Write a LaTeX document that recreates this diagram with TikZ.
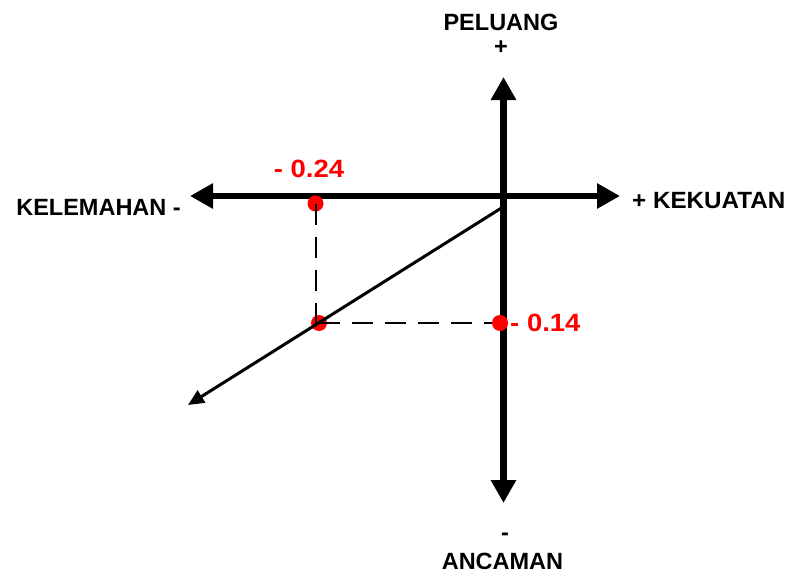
\documentclass[tikz,border=0pt]{standalone}
\usepackage{fontspec}
\setmainfont{Liberation Sans}
\usetikzlibrary{arrows.meta}
\begin{document}
\begin{tikzpicture}[x=1pt,y=-1pt,
  lbl/.style={inner sep=0pt,font=\fontsize{23.5}{26}\selectfont\bfseries},
  rlbl/.style={inner sep=0pt,text=red,font=\fontsize{25}{28}\selectfont\bfseries,xscale=1.1},
  axisline/.style={line width=6.5pt,-{Triangle[length=23pt,width=24pt]}},
  dotr/.style={circle,fill=red,inner sep=0pt,minimum size=16pt},
  guideline/.style={line width=2pt,dash pattern=on 21pt off 12pt}
]
\useasboundingbox (0,0) rectangle (787,573);
% axis end points
\coordinate (W) at (190,196);
\coordinate (E) at (620,196);
\coordinate (N) at (503.5,77);
\coordinate (S) at (503.5,503);
\coordinate (O) at (503.5,196);
\coordinate (D0) at (503,207);
\coordinate (D1) at (188,405);
% axes
\draw[axisline] (O) -- (W);
\draw[axisline] (O) -- (E);
\draw[axisline] (O) -- (N);
\draw[axisline] (O) -- (S);
% dots
\node[dotr] (p1) at (315.5,203.5) {};
\node[dotr] (p2) at (319,323) {};
\node[dotr] (p3) at (500,323) {};
% dashed guides
\draw[guideline] (p1.center) -- (p1.center |- p2.center);
\draw[guideline] (p2.center) -- (p3.west);
% diagonal arrow
\draw[line width=3pt,-{Triangle[length=16pt,width=14pt]}] (D0) -- (D1);
% labels
\node[lbl,anchor=base] (peluang) at (501,30) {PELUANG};
\node[lbl] (plus) at (501,48) {+};
\node[lbl] (minus) at (505,537) {-};
\node[lbl,anchor=base] (ancaman) at (502.5,569) {ANCAMAN};
\node[lbl,anchor=base east] (kelemahan) at (181,215) {KELEMAHAN -};
\node[lbl,anchor=base west,xscale=1.03] (kekuatan) at (632,208) {+ KEKUATAN};
\node[rlbl,anchor=base] (v1) at (309,177) {- 0.24};
\node[rlbl,anchor=base west] (v2) at (510,331) {- 0.14};
\end{tikzpicture}
\end{document}
